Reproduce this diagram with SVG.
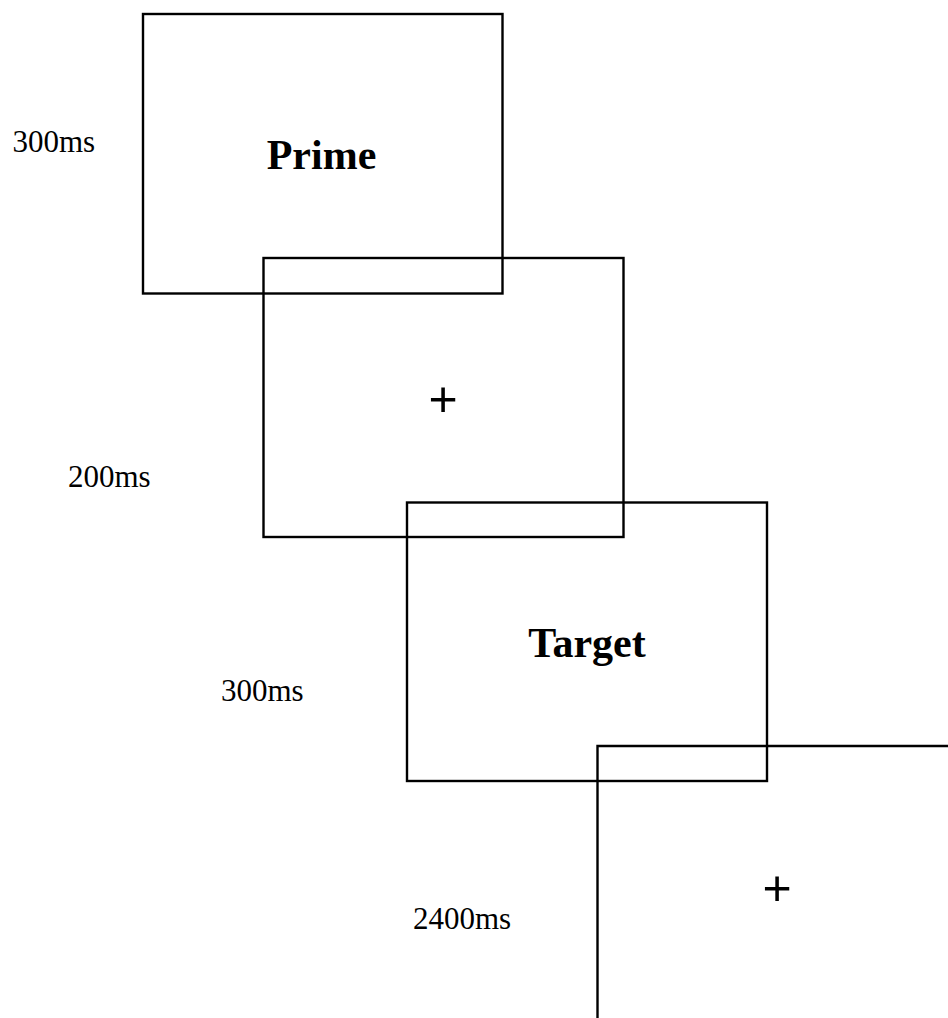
<svg xmlns="http://www.w3.org/2000/svg" width="948" height="1018" viewBox="0 0 948 1018">
  <style>
    .frame { fill: none; stroke: #000; stroke-width: 2.4; }
    .title { font-family: "Liberation Serif", "Times New Roman", serif; font-weight: bold; font-size: 42px; fill: #000; text-anchor: middle; }
    .dur { font-family: "Liberation Serif", "Times New Roman", serif; font-size: 31px; fill: #000; }
    .fix { font-family: "Liberation Sans", Arial, sans-serif; font-size: 50px; fill: #000; text-anchor: middle; }
  </style>
  <rect width="948" height="1018" fill="#fff"/>

  <!-- Screen 1: prime -->
  <g id="screen-prime">
    <rect class="frame" x="143" y="14" width="359.5" height="279.5"/>
    <text class="title" x="321.5" y="168.5">Prime</text>
  </g>

  <!-- Screen 2: fixation -->
  <g id="screen-fixation-1">
    <rect class="frame" x="263.5" y="258" width="360" height="279"/>
    <text class="fix" x="443" y="415.5">+</text>
  </g>

  <!-- Screen 3: target -->
  <g id="screen-target">
    <rect class="frame" x="407" y="502.5" width="360" height="278.5"/>
    <text class="title" x="587" y="657">Target</text>
  </g>

  <!-- Screen 4: fixation, running off the page -->
  <g id="screen-fixation-2">
    <path class="frame" d="M 950 746 H 597.5 V 1020"/>
    <text class="fix" x="777" y="905">+</text>
  </g>

  <!-- Durations -->
  <g id="durations">
    <text class="dur" x="12.5" y="152">300ms</text>
    <text class="dur" x="68" y="487">200ms</text>
    <text class="dur" x="221" y="701">300ms</text>
    <text class="dur" x="413" y="929">2400ms</text>
  </g>

  <g id="connectors"/>
</svg>
